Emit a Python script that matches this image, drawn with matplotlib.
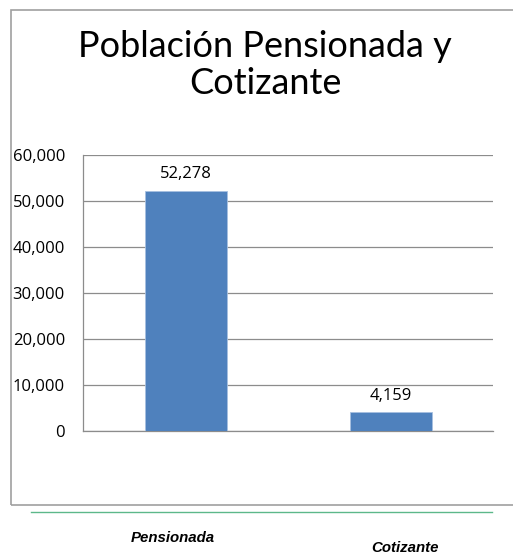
import matplotlib
matplotlib.use("Agg")
import matplotlib.pyplot as plt
from matplotlib.patches import Rectangle
from matplotlib.lines import Line2D

categories = ["Pensionada", "Cotizante"]
values = [52278, 4159]
yticks = [0, 10000, 20000, 30000, 40000, 50000, 60000]
title = "Población Pensionada y\nCotizante"

W, H = 513, 555
fig = plt.figure(figsize=(W/100, H/100), dpi=100)

# outer border
fig.add_artist(Rectangle((11/W, 1-505/H), 1.2, (505-10)/H, transform=fig.transFigure,
                         fill=False, edgecolor="#a0a0a0", linewidth=1.2))

ax = fig.add_axes([83/W, 1-431/H, 410/W, 276/H])
x = list(range(len(categories)))
bars = ax.bar(x, values, width=0.4, color="#4f81bd", edgecolor="#a6c0e0", linewidth=0.6, zorder=3)
ax.set_xlim(-0.5, len(categories)-0.5)
ax.set_ylim(0, 60000)
ax.set_yticks(yticks)
ax.set_yticklabels([f"{v:,}" for v in yticks], fontsize=12, family="Open Sans")
ax.set_xticks([])
ax.grid(axis="y", color="#8c8c8c", linewidth=0.9, zorder=0)
for s in ["top", "right"]:
    ax.spines[s].set_visible(False)
for s in ["left", "bottom"]:
    ax.spines[s].set_color("#8c8c8c")
    ax.spines[s].set_linewidth(0.9)
ax.tick_params(axis="y", length=0, pad=13)

for xi, v in zip(x, values):
    ax.annotate(f"{v:,}", (xi, v), xytext=(0, 6), textcoords="offset points",
                ha="center", va="bottom", fontsize=12, family="Open Sans")

fig.text(265/W, 1-65/H, title, ha="center", va="center", fontsize=26,
         family="Lato", color="black", linespacing=1.12)

fig.add_artist(Line2D([31/W, 492/W], [1-512/H, 1-512/H], transform=fig.transFigure,
                      color="#5cb88a", linewidth=1.0))

label_pos = [(173, 538), (405, 548)]
for name, (px, py) in zip(categories, label_pos):
    fig.text(px/W, 1-py/H, name, ha="center", va="center", fontsize=10.8,
             family="Liberation Sans", fontweight="bold", fontstyle="italic")

fig.savefig("out.png", dpi=100)
